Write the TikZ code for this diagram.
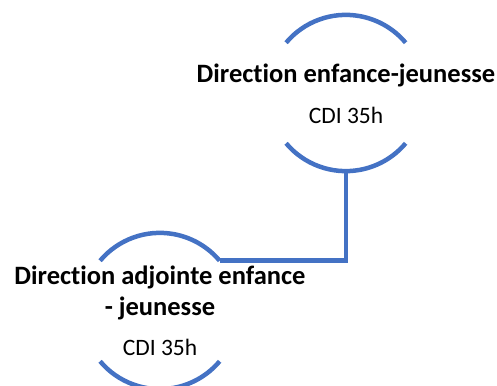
\documentclass[tikz,border=0pt]{standalone}
\usepackage{fontspec}
\setmainfont{Carlito}[Ligatures=NoCommon]
\usetikzlibrary{positioning}
\definecolor{ringblue}{HTML}{4472C4}
\begin{document}
\begin{tikzpicture}[
    x=1pt, y=1pt,
    ring/.style={
      circle,
      minimum size=156pt,
      inner sep=0pt
    },
    arcline/.style={
      ringblue,
      line width=4.5pt
    },
    title/.style={
      font=\fontsize{26.5}{30.5}\selectfont\bfseries,
      align=center
    },
    contract/.style={
      font=\fontsize{23.5}{28}\selectfont
    }
  ]

    % Canvas
    \useasboundingbox (0,0) rectangle (497,-385);

    % Rings (invisible nodes carrying the arcs)
    \node[ring] (dir) at (346,-93) {};
    \node[ring] (adj) at (160,-311) {};

    % Upper and lower arcs of each ring
    \foreach \r in {dir,adj} {
      \draw[arcline] (\r.140) arc[start angle=140, end angle=40, radius=78];
      \draw[arcline] (\r.220) arc[start angle=220, end angle=320, radius=78];
    }

    % Texts
    \node[title] (dirtitle) at (346,-75) {Direction enfance-jeunesse};
    \node[contract] (dircdi) at (346,-115) {CDI 35h};

    \node[title] (adjtitle) at (160,-293) {Direction adjointe enfance\\- jeunesse};
    \node[contract] (adjcdi) at (160,-347) {CDI 35h};

    % Connector
    \draw[arcline] (dir.south) |- (adj.40);

  \end{tikzpicture}
\end{document}
